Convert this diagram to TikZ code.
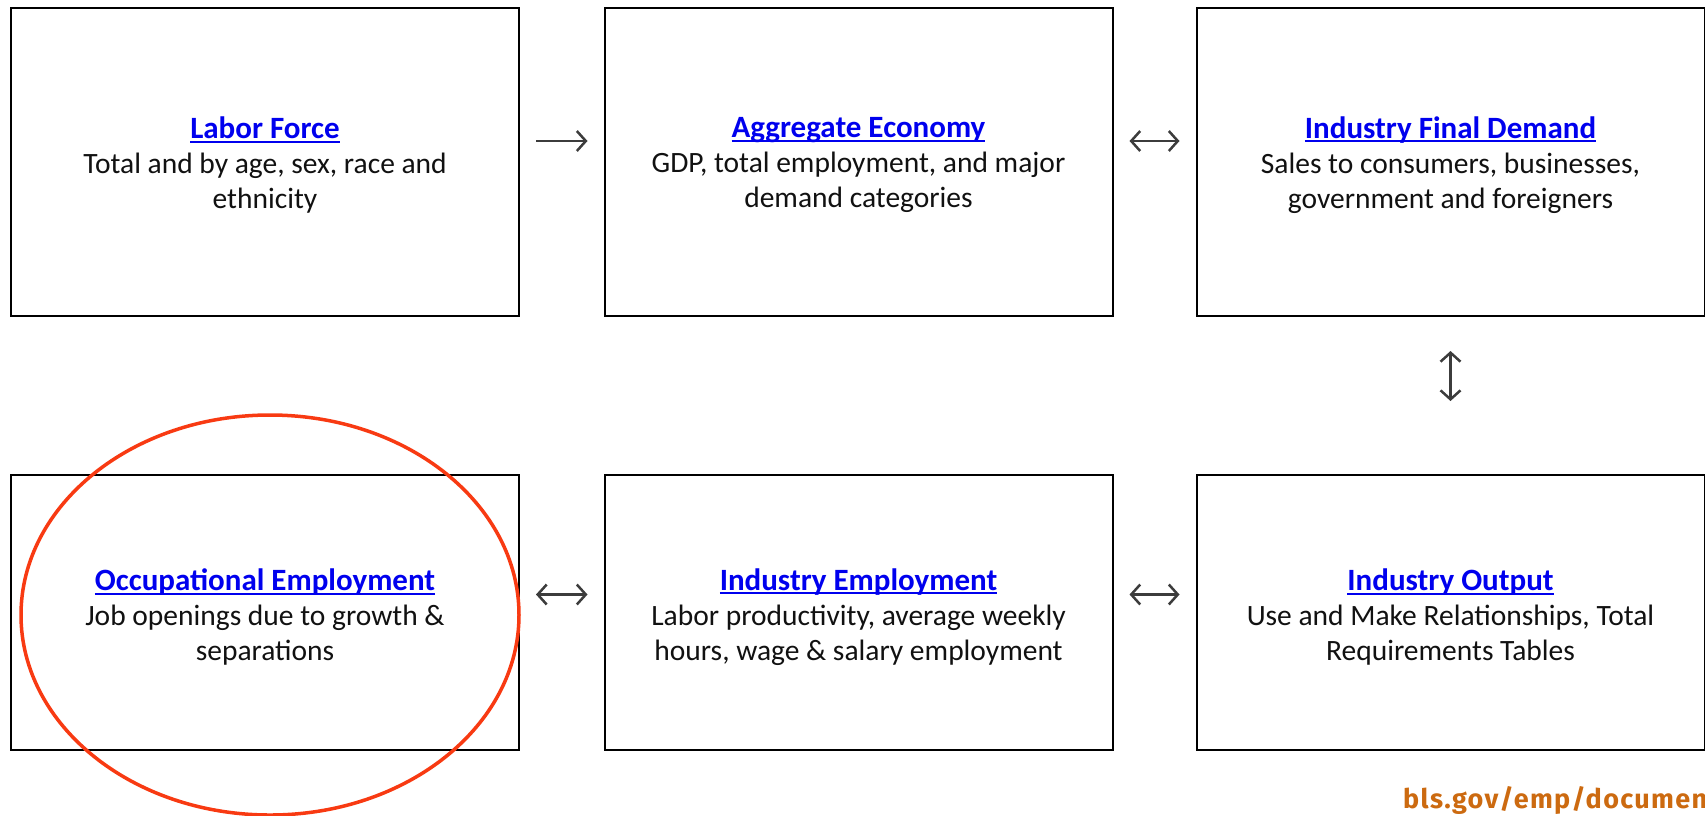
\documentclass[tikz,border=0pt]{standalone}
\usepackage{fontspec}
\setmainfont{Carlito}
\newfontfamily\footfont[LetterSpace=5]{Fira Sans}
\usetikzlibrary{arrows.meta}
\definecolor{linkblue}{HTML}{0000EE}
\definecolor{bodytext}{HTML}{111111}
\definecolor{arrowgray}{HTML}{3C3C3C}
\definecolor{circlered}{HTML}{F83A12}
\definecolor{siteorange}{HTML}{CC6A10}
% underlined link-style heading
\newsavebox{\titlebox}
\newcommand{\boxtitle}[1]{{\color{linkblue}\sbox{\titlebox}{\bfseries\fontsize{31}{35}\selectfont #1}%
  \rlap{\rule[-4pt]{\wd\titlebox}{2pt}}\usebox{\titlebox}}}

\begin{document}
\begin{tikzpicture}[x=1pt,y=-1pt,
  block/.style={draw=black, line width=2pt, fill=white, minimum width=508pt,
    align=center, text=bodytext, inner sep=0pt,
    font=\fontsize{29.5}{35}\selectfont},
  toprow/.style={block, minimum height=308pt},
  botrow/.style={block, minimum height=275pt},
  link/.style={draw=arrowgray, line width=2.5pt,
    arrows={-Straight Barb[length=9pt,width=20pt]}},
  biglink/.style={link, arrows={Straight Barb[length=9pt,width=20pt]-Straight Barb[length=9pt,width=20pt]}},
  caption/.style={anchor=center, inner sep=0pt, align=center, text=bodytext,
    font=\fontsize{29.5}{35}\selectfont},
]
\useasboundingbox (0,0) rectangle (1705,815);

% top row
\node[toprow] (labor) at (265,162) {};
\node[toprow] (aggr) at (858.5,162) {};
\node[toprow] (final) at (1450.5,162) {};
\node[caption] (laborText) at (265,165) {\boxtitle{Labor Force}\\Total and by age, sex, race and\\ethnicity};
\node[caption] (aggrText) at (858.5,165) {\boxtitle{Aggregate Economy}\\GDP, total employment, and major\\demand categories};
\node[caption] (finalText) at (1450.5,165) {\boxtitle{Industry Final Demand}\\Sales to consumers, businesses,\\government and foreigners};

% bottom row
\node[botrow] (occ) at (265,612.5) {};
\node[botrow] (indemp) at (858.5,612.5) {};
\node[botrow] (output) at (1450.5,612.5) {};
\node[caption] (occText) at (265,617) {\boxtitle{Occupational Employment}\\Job openings due to growth \&\\separations};
\node[caption] (indempText) at (858.5,617) {\boxtitle{Industry Employment}\\Labor productivity, average weekly\\hours, wage \& salary employment};
\node[caption] (outputText) at (1450.5,617) {\boxtitle{Industry Output}\\Use and Make Relationships, Total\\Requirements Tables};

% connectors
\draw[link, shorten <=16pt, shorten >=16pt] ([yshift=21pt]labor.east) -- ([yshift=21pt]aggr.west);
\draw[biglink, shorten <=16pt, shorten >=16pt] ([yshift=21pt]aggr.east) -- ([yshift=21pt]final.west);
\draw[biglink, shorten <=34pt, shorten >=73pt] (final.south) -- (output.north);
\draw[biglink, shorten <=16pt, shorten >=16pt] ([yshift=18pt]occ.east) -- ([yshift=18pt]indemp.west);
\draw[biglink, shorten <=16pt, shorten >=16pt] ([yshift=18pt]indemp.east) -- ([yshift=18pt]output.west);

% highlight ring
\draw[circlered, line width=3.5pt] (270,615) ellipse [x radius=249, y radius=200];

% source line
\node[anchor=base west, inner sep=0pt, text=siteorange, font=\footfont\bfseries\fontsize{27}{30}\selectfont] (site) at (1403,808) {bls.gov/emp/documen};
\end{tikzpicture}
\end{document}
